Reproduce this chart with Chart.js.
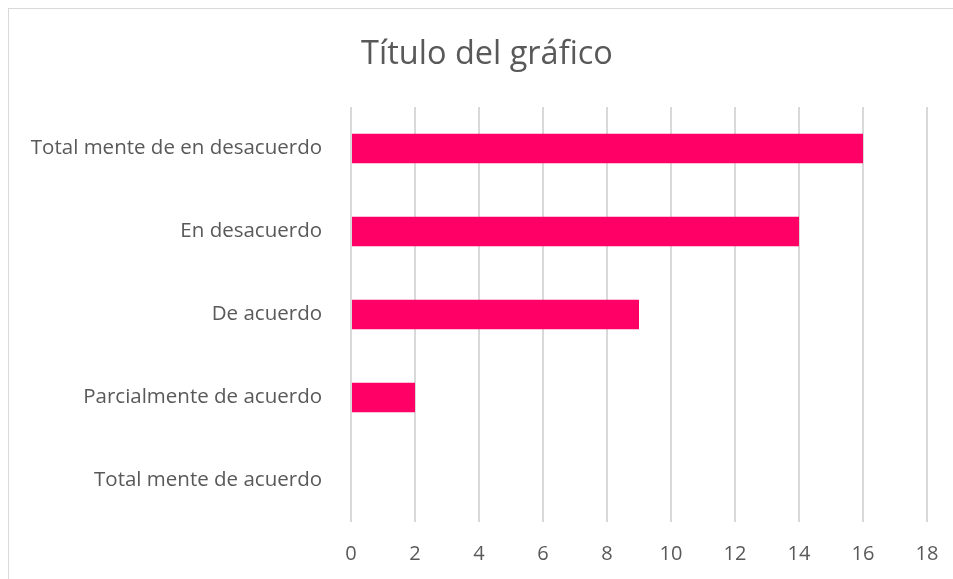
<!DOCTYPE html>
<html>
<head>
<meta charset="utf-8">
<script src="https://cdn.jsdelivr.net/npm/chart.js@4.4.0/dist/chart.umd.min.js"></script>
<style>
  html, body { margin: 0; padding: 0; background: #fff; overflow: hidden; }
  #wrap { position: relative; width: 953px; height: 579px; overflow: hidden; }
  #frame { position: absolute; left: 8px; top: 8px; width: 960px; height: 600px; border: 1px solid #d9d9d9; box-sizing: border-box; }
  canvas { position: absolute; left: 0; top: 0; }
</style>
</head>
<body>
<div id="wrap">
  <div id="frame"></div>
  <canvas id="c" width="967" height="579"></canvas>
</div>
<script>
const titleText = "Título del gráfico";
const categories = [
  "Total mente de en desacuerdo",
  "En desacuerdo",
  "De acuerdo",
  "Parcialmente de acuerdo",
  "Total mente de acuerdo"
];
const values = [16, 14, 9, 2, 0];
const xTicks = [0, 2, 4, 6, 8, 10, 12, 14, 16, 18];

const textColor = "#595959";
const fontFamily = "'Open Sans', 'Noto Sans', sans-serif";

new Chart(document.getElementById("c"), {
  type: "bar",
  data: {
    labels: categories,
    datasets: [{
      data: values,
      backgroundColor: "#FF0066",
      borderWidth: 0,
      categoryPercentage: 1,
      barPercentage: 0.355
    }]
  },
  options: {
    indexAxis: "y",
    responsive: false,
    animation: false,
    devicePixelRatio: 1,
    layout: { padding: { left: 47, right: 40, top: 0, bottom: 0 } },
    plugins: {
      legend: { display: false },
      tooltip: { enabled: false },
      title: {
        display: true,
        text: titleText,
        color: textColor,
        font: { family: fontFamily, size: 32.5, weight: "normal", lineHeight: 1.2 },
        padding: { top: 35, bottom: 33 }
      }
    },
    scales: {
      x: {
        min: 0,
        max: 18,
        afterBuildTicks: (s) => { s.ticks = xTicks.map(v => ({ value: v })); },
        afterFit: (s) => { s.height = 57; },
        grid: { color: "#d9d9d9", lineWidth: 2, drawTicks: false },
        border: { display: false },
        ticks: { color: textColor, padding: 20, font: { family: fontFamily, size: 20 } }
      },
      y: {
        afterFit: (s) => {
          s.width = 304;
          s._computeLabelArea = () => undefined;
        },
        grid: { display: false, drawTicks: false },
        border: { display: false },
        ticks: { color: textColor, padding: 29, font: { family: fontFamily, size: 20.5 } }
      }
    }
  }
});
</script>
</body>
</html>
